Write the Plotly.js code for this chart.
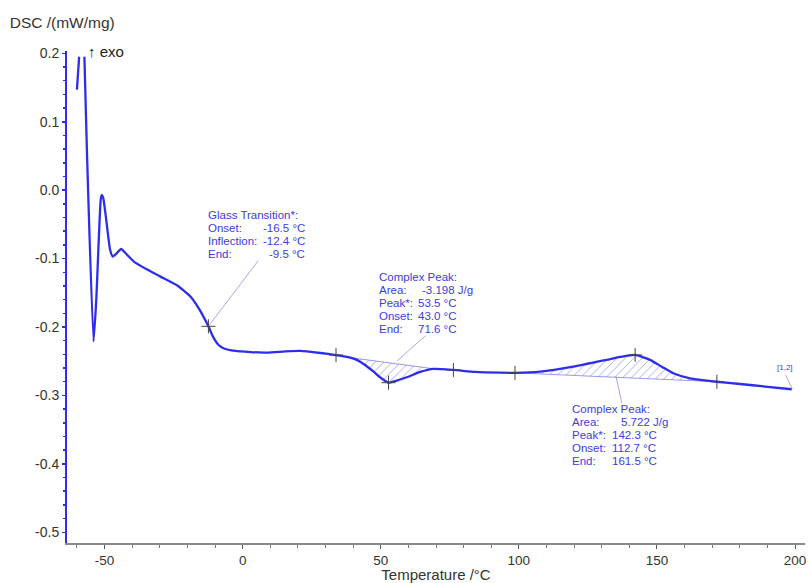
<!DOCTYPE html>
<html>
<head>
<meta charset="utf-8">
<script src="https://cdn.plot.ly/plotly-3.0.1.min.js"></script>
<style>html,body{margin:0;padding:0;background:#fff;}#chart{width:809px;height:583px;}</style>
</head>
<body>
<div id="chart"></div>
<script>
// ---- data ----
const temp = [-60.0, -59.2, -58.2, -57.3, -56.4, -54.0, -53.0, -51.4, -51.0, -50.5, -49.4, -48.0, -47.0, -45.8, -44.0, -42.2, -38.9, -34.6, -29.9, -23.8, -19.0, -16.0, -12.4, -10.7, -8.8, -6.95, -2.7, 8.8, 15.4, 20.8, 28.1, 33.8, 37.8, 41.3, 44.3, 47.3, 50.1, 52.8, 55.2, 59.4, 64.3, 69.1, 76.3, 84.2, 93.2, 98.6, 107.7, 119.7, 131.8, 136.7, 142.1, 147.5, 151.9, 155.9, 162.0, 171.7, 180.1, 189.1, 198.8];
const dsc = [0.147, 0.195, null, 0.195, 0.059, -0.221, -0.160, -0.014, -0.007, -0.011, -0.043, -0.087, -0.097, -0.093, -0.086, -0.093, -0.106, -0.116, -0.126, -0.139, -0.155, -0.172, -0.199, -0.2145, -0.226, -0.231, -0.235, -0.2375, -0.2357, -0.235, -0.238, -0.241, -0.2438, -0.248, -0.2555, -0.265, -0.2745, -0.2814, -0.279, -0.2735, -0.2657, -0.2613, -0.2628, -0.2657, -0.2668, -0.267, -0.2653, -0.258, -0.248, -0.2438, -0.2408, -0.248, -0.2584, -0.2676, -0.275, -0.280, -0.2833, -0.287, -0.291];

const markT = [-12.4, 33.8, 52.8, 76.3, 98.6, 142.1, 171.7];
const markY = [-0.199, -0.241, -0.2814, -0.2628, -0.267, -0.2408, -0.280];

const base1T = [38.5, 70.0];
const base1Y = [-0.2445, -0.2615];
const base2T = [98.6, 171.7];
const base2Y = [-0.267, -0.280];

const xTickVals = [-50, 0, 50, 100, 150, 200];
const xTickText = ["-50", "0", "50", "100", "150", "200"];
const yTickVals = [0.2, 0.1, 0.0, -0.1, -0.2, -0.3, -0.4, -0.5];
const yTickText = ["0.2", "0.1", "0.0", "-0.1", "-0.2", "-0.3", "-0.4", "-0.5"];

const glassLabels = ["Glass Transition*:", "Onset:", "Inflection:", "End:"];
const glassValues = ["", "-16.5 °C", "-12.4 °C", "-9.5 °C"];
const peak1Labels = ["Complex Peak:", "Area:", "Peak*:", "Onset:", "End:"];
const peak1Values = ["", "-3.198 J/g", "53.5 °C", "43.0 °C", "71.6 °C"];
const peak2Labels = ["Complex Peak:", "Area:", "Peak*:", "Onset:", "End:"];
const peak2Values = ["", "5.722 J/g", "142.3 °C", "112.7 °C", "161.5 °C"];

// ---- helpers ----
function interp(t) {
  for (let i = 0; i < temp.length - 1; i++) {
    if (dsc[i] === null || dsc[i + 1] === null) continue;
    if (t >= temp[i] && t <= temp[i + 1]) {
      const f = (t - temp[i]) / (temp[i + 1] - temp[i]);
      return dsc[i] + f * (dsc[i + 1] - dsc[i]);
    }
  }
  return null;
}
function peakPolygon(bT, bY) {
  const xs = [], ys = [];
  xs.push(bT[0]); ys.push(interp(bT[0]));
  for (let i = 0; i < temp.length; i++) {
    if (temp[i] > bT[0] && temp[i] < bT[1] && dsc[i] !== null) { xs.push(temp[i]); ys.push(dsc[i]); }
  }
  xs.push(bT[1]); ys.push(interp(bT[1]));
  xs.push(bT[1]); ys.push(bY[1]);
  xs.push(bT[0]); ys.push(bY[0]);
  return {x: xs, y: ys};
}

const BLUE = 'rgb(45,45,235)';
const TXT = 'rgb(60,60,225)';
const FONT = 'Liberation Sans, Arial, sans-serif';
const hatch = {shape: '/', fgcolor: 'rgba(90,90,220,0.7)', bgcolor: 'rgba(255,255,255,0)', size: 6, solidity: 0.12};

const p1 = peakPolygon(base1T, base1Y);
const p2 = peakPolygon(base2T, base2Y);

const traces = [
  {x: p1.x, y: p1.y, type: 'scatter', mode: 'lines', fill: 'toself', fillcolor: 'rgba(255,255,255,0)',
   fillpattern: hatch, line: {width: 0}, hoverinfo: 'skip', showlegend: false},
  {x: p2.x, y: p2.y, type: 'scatter', mode: 'lines', fill: 'toself', fillcolor: 'rgba(255,255,255,0)',
   fillpattern: hatch, line: {width: 0}, hoverinfo: 'skip', showlegend: false},
  {x: base1T, y: base1Y, type: 'scatter', mode: 'lines', line: {color: 'rgba(110,110,230,0.7)', width: 1}, showlegend: false},
  {x: base2T, y: base2Y, type: 'scatter', mode: 'lines', line: {color: 'rgba(110,110,230,0.7)', width: 1}, showlegend: false},
  {x: temp, y: dsc, type: 'scatter', mode: 'lines', connectgaps: false,
   line: {color: BLUE, width: 2.3, shape: 'spline', smoothing: 0.5}, showlegend: false},
  {x: markT, y: markY, type: 'scatter', mode: 'markers',
   marker: {symbol: 'cross-thin', size: 10, line: {color: '#444', width: 1}}, showlegend: false}
];

// annotation blocks
const ann = [];
const AF = {family: FONT, size: 11.5, color: TXT};
function block(labels, values, lx, vx, y0, valAlign, areaShift) {
  labels.forEach((t, i) => ann.push({x: lx, y: y0, xref: 'x', yref: 'y', text: t, showarrow: false,
    xanchor: 'left', yanchor: 'middle', yshift: -13 * i, font: AF}));
  values.forEach((t, i) => { if (t) ann.push({x: vx, y: y0, xref: 'x', yref: 'y', text: t, showarrow: false,
    xanchor: valAlign, yanchor: 'middle', yshift: -13 * i, xshift: i === 1 ? areaShift : 0, font: AF}); });
}
block(glassLabels, glassValues, -13.3, 23.2, -0.0359, 'right', 0);
block(peak1Labels, peak1Values, 48.6, 62.7, -0.1266, 'left', 4);
block(peak2Labels, peak2Values, 118.5, 133.0, -0.320, 'left', 9);

ann.push({x: -56.7, y: 0.2028, xref: 'x', yref: 'y', text: '↑ exo', showarrow: false, xanchor: 'left', yanchor: 'middle',
  font: {family: FONT, size: 15, color: '#222'}});
ann.push({x: 196.4, y: -0.259, xref: 'x', yref: 'y', text: '[1,2]', showarrow: false, xanchor: 'center', yanchor: 'middle',
  font: {family: FONT, size: 8, color: TXT}});

const leader = {color: 'rgba(120,120,235,0.65)', width: 1};
const shapes = [
  {type: 'line', xref: 'x', yref: 'y', x0: -12.4, y0: -0.199, x1: 5.6, y1: -0.1032, line: leader},
  {type: 'line', xref: 'x', yref: 'y', x0: 55.9, y0: -0.2496, x1: 66.1, y1: -0.213, line: leader},
  {type: 'line', xref: 'x', yref: 'y', x0: 135.2, y0: -0.2726, x1: 137.3, y1: -0.3116, line: leader},
  {type: 'line', xref: 'x', yref: 'y', x0: 196.6, y0: -0.270, x1: 199.0, y1: -0.2906, line: leader}
];

const layout = {
  width: 809, height: 583,
  margin: {l: 67, r: 4, t: 51, b: 40, pad: 0},
  paper_bgcolor: '#fff', plot_bgcolor: '#fff',
  font: {family: FONT, color: '#333'},
  title: {text: 'DSC /(mW/mg)', xref: 'container', yref: 'container', x: 0.012, xanchor: 'left',
    y: 0.962, yanchor: 'middle', font: {family: FONT, size: 15.5, color: '#333'}},
  xaxis: {range: [-63.6, 203.6], tickvals: xTickVals, ticktext: xTickText, ticks: 'outside', ticklen: 4,
    tickcolor: '#555', tickwidth: 1, showline: true, linecolor: '#8a8a8a', linewidth: 2,
    showgrid: false, zeroline: false, tickfont: {family: FONT, size: 13.5, color: '#333'},
    minor: {dtick: 10, tick0: 0, ticks: 'outside', ticklen: 3, tickcolor: '#777', showgrid: false},
    title: {text: 'Temperature /°C', standoff: 5, font: {family: FONT, size: 15, color: '#333'}}},
  yaxis: {range: [-0.5157, 0.2034], tickvals: yTickVals, ticktext: yTickText, ticks: 'outside', ticklen: 3,
    tickcolor: BLUE, tickwidth: 1.5, showline: true, linecolor: BLUE, linewidth: 2,
    showgrid: false, zeroline: false, tickfont: {family: FONT, size: 14, color: '#333'},
    minor: {dtick: 0.02, tick0: 0, ticks: 'outside', ticklen: 2, tickcolor: BLUE, showgrid: false}},
  annotations: ann,
  shapes: shapes,
  showlegend: false
};

Plotly.newPlot('chart', traces, layout, {staticPlot: true, displayModeBar: false});
</script>
</body>
</html>
